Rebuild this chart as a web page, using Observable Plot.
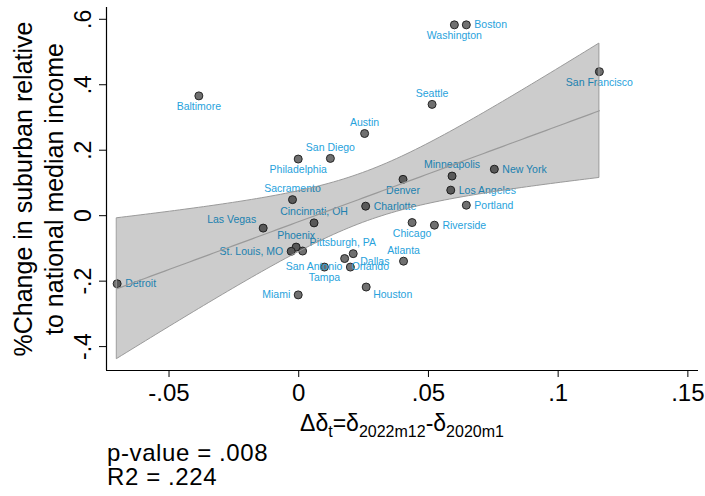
<!DOCTYPE html>
<html><head><meta charset="utf-8">
<script src="https://cdn.jsdelivr.net/npm/d3@7"></script>
<script src="https://cdn.jsdelivr.net/npm/@observablehq/plot@0.6"></script>
<style>
html,body{margin:0;padding:0;background:#fff;}
body{width:705px;height:496px;position:relative;overflow:hidden;font-family:"Liberation Sans",Arial,sans-serif;color:#000;}
#chart{position:absolute;left:0;top:0;}
.xt{position:absolute;top:408px;left:106px;width:592px;text-align:center;font-size:23px;line-height:30px;white-space:nowrap;}
.xt .s{font-size:16px;position:relative;top:6px;}
.foot{position:absolute;left:107px;font-size:24px;line-height:22px;letter-spacing:0.6px;white-space:nowrap;}
</style></head><body>
<div id="chart"></div>
<div class="xt">Δδ<span class="s">t</span>=δ<span class="s">2022m12</span>-δ<span class="s">2020m1</span></div>
<div class="foot" style="top:442px">p-value = .008</div>
<div class="foot" style="top:466px">R2 = .224</div>
<script>
const cities = ["Detroit","Baltimore","Austin","San Diego","Philadelphia","Sacramento","Charlotte","Cincinnati, OH","Las Vegas","Phoenix","St. Louis, MO","Pittsburgh, PA","Tampa","Orlando","Dallas","San Antonio","Miami","Houston","Atlanta","Chicago","Riverside","Denver","Minneapolis","Los Angeles","Portland","New York","Seattle","Washington","Boston","San Francisco"];
const deltaShift = [-0.0700,-0.0385,0.0254,0.0122,-0.0002,-0.0024,0.0258,0.0059,-0.0137,-0.0010,-0.0029,0.0015,0.0099,0.0177,0.0210,0.0199,-0.0002,0.0260,0.0404,0.0437,0.0523,0.0402,0.0591,0.0586,0.0646,0.0754,0.0514,0.0600,0.0646,0.1159];
const incomeChange = [-0.208,0.366,0.251,0.175,0.173,0.049,0.029,-0.022,-0.038,-0.096,-0.109,-0.108,-0.157,-0.131,-0.116,-0.157,-0.242,-0.218,-0.139,-0.021,-0.029,0.111,0.121,0.078,0.032,0.142,0.340,0.583,0.583,0.440];
// Stata-style clock positions for marker labels
const labelClock = [3,6,12,12,6,12,3,12,10,12,9,2,6,4,4,9,9,4,12,6,3,6,12,3,3,3,12,6,3,6];
const xTicks = [-0.05,0,0.05,0.1,0.15];
const yTicks = [-0.4,-0.2,0,0.2,0.4,0.6];
const xDomain = [-0.0741,0.1541];
const yDomain = [-0.473,0.636];
const yTitle = "%Change in suburban relative\nto national median income";

const data = cities.map((c,i)=>({city:c,x:deltaShift[i],y:incomeChange[i],pos:labelClock[i]}));

// linear fit with 95% CI (as Stata lfitci)
const n = data.length;
const mx = d3.mean(data,d=>d.x), my = d3.mean(data,d=>d.y);
const sxx = d3.sum(data,d=>(d.x-mx)**2);
const sxy = d3.sum(data,d=>(d.x-mx)*(d.y-my));
const b = sxy/sxx, a = my-b*mx;
const s = Math.sqrt(d3.sum(data,d=>(d.y-a-b*d.x)**2)/(n-2));
const tcrit = 2.0484;
const [x0,x1] = d3.extent(data,d=>d.x);
const fit = d3.range(101).map(i=>{
  const x = x0+(x1-x0)*i/100, yh = a+b*x;
  const se = s*Math.sqrt(1/n+(x-mx)**2/sxx);
  return {x, y:yh, lo:yh-tcrit*se, hi:yh+tcrit*se};
});

const fmt = d => String(+d.toFixed(3)).replace("0.",".");
const clock = {
  3:{dx:8,dy:0,a:"start"}, 9:{dx:-8,dy:0,a:"end"},
  12:{dx:0,dy:-11,a:"middle"}, 6:{dx:0,dy:11,a:"middle"},
  2:{dx:7,dy:-8,a:"start"}, 4:{dx:7,dy:8,a:"start"}, 10:{dx:-7,dy:-8,a:"end"}
};
const labelColor = "#27a2dc";

const chart = Plot.plot({
  width:705, height:405,
  marginLeft:106, marginRight:7, marginTop:7, marginBottom:35,
  style:{fontFamily:"'Liberation Sans', Arial, sans-serif", background:"#fff", overflow:"visible"},
  x:{domain:xDomain},
  y:{domain:yDomain},
  marks:[
    Plot.dot(data,{x:"x",y:"y",r:4,fill:"#707070",stroke:"#262626",strokeWidth:1}),
    ...Object.entries(clock).map(([k,p])=>Plot.text(data.filter(d=>String(d.pos)===k),{
      x:"x",y:"y",text:"city",dx:p.dx,dy:p.dy,textAnchor:p.a,fill:labelColor,fontSize:10.5})),
    Plot.areaY(fit,{x:"x",y1:"lo",y2:"hi",fill:"black",fillOpacity:0.2,stroke:"#9a9a9a",strokeWidth:1}),
    Plot.line(fit,{x:"x",y:"y",stroke:"#9a9a9a",strokeWidth:1.2}),
    Plot.ruleX([xDomain[0]],{stroke:"#000",strokeWidth:1.2}),
    Plot.ruleY([yDomain[0]],{stroke:"#000",strokeWidth:1.2}),
    Plot.axisX({ticks:xTicks,tickFormat:fmt,tickSize:7,tickPadding:6,fontSize:24,label:null,stroke:"#000"}),
    Plot.axisY({ticks:yTicks,tickFormat:fmt,tickSize:7,tickPadding:9,tickRotate:-90,textAnchor:"middle",fontSize:23,label:null}),
    Plot.text([yTitle],{frameAnchor:"left",rotate:-90,dx:-69,fontSize:25,lineHeight:1.24,textAnchor:"middle",fill:"#000"})
  ]
});
document.getElementById("chart").appendChild(chart);
</script>
</body></html>
